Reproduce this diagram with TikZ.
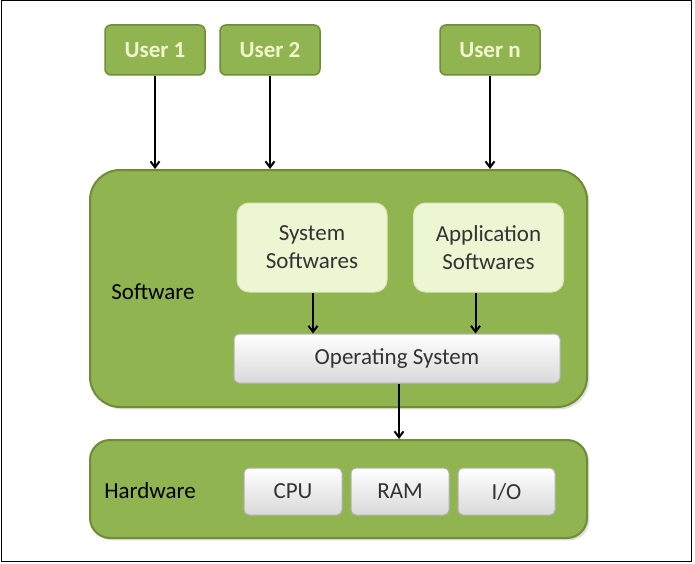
\documentclass[tikz,border=0pt]{standalone}
\usepackage{fontspec}
\setmainfont{Carlito}
\usetikzlibrary{arrows.meta,shadows}
\definecolor{gfill}{RGB}{144,180,80}
\definecolor{gdraw}{RGB}{112,140,55}
\definecolor{lgreen}{RGB}{236,246,210}
\definecolor{utext}{RGB}{242,246,205}
\tikzset{
 user/.style={draw=gdraw,fill=gfill,rounded corners=6pt,line width=1.5pt,text=utext,font=\bfseries\fontsize{23}{26}\selectfont,minimum width=100pt,minimum height=50pt},
 soft/.style={draw=lgreen!80!gfill,fill=lgreen,rounded corners=12pt,line width=1pt,font=\fontsize{23}{28}\selectfont,align=center,text=black!80,minimum width=150pt,minimum height=89pt},
 grey/.style={draw=gray!60,top color=white,bottom color=gray!30,rounded corners=5pt,line width=1pt,font=\fontsize{23}{26}\selectfont,text=black!80},
 arr/.style={-{Straight Barb[length=6pt,width=9pt]},line width=2pt},
 big/.style={draw=gdraw,fill=gfill,rounded corners=30pt,line width=2pt,drop shadow={opacity=0.25}},
}
\begin{document}
\begin{tikzpicture}[x=1pt,y=-1pt]
\useasboundingbox (0,0) rectangle (695,564);
\draw[line width=1pt] (1,1) rectangle (691,561);
\node[user] (u1) at (155,50) {User 1};
\node[user] (u2) at (270,50) {User 2};
\node[user] (un) at (490,50) {User n};
\node[big,minimum width=497pt,minimum height=237pt] (sw) at (338.5,288.5) {};
\node[big,rounded corners=20pt,minimum width=497pt,minimum height=98pt] (hw) at (338.5,489) {};
\node[font=\fontsize{23}{26}\selectfont] (swl) at (153,292) {Software};
\node[font=\fontsize{23}{26}\selectfont] (hwl) at (150,491) {Hardware};
\node[soft] (ss) at (312,247.5) {System\\Softwares};
\node[soft] (as) at (488.5,247.5) {Application\\Softwares};
\node[grey,minimum width=326pt,minimum height=49pt] (os) at (397,358.5) {Operating System};
\node[grey,minimum width=98pt,minimum height=47pt] (cpu) at (293,491.5) {CPU};
\node[grey,minimum width=98pt,minimum height=47pt] (ram) at (400,491.5) {RAM};
\node[grey,minimum width=97pt,minimum height=47pt] (io) at (506.5,491.5) {I/O};
\draw[arr] (u1.south) -- (u1.south |- sw.north);
\draw[arr] (u2.south) -- (u2.south |- sw.north);
\draw[arr] (un.south) -- (un.south |- sw.north);
\draw[arr] (ss.south) ++(1,0) coordinate (a1) -- (a1 |- os.north);
\draw[arr] (as.south) ++(-13,0) coordinate (a2) -- (a2 |- os.north);
\draw[arr] (os.south) ++(2,0) coordinate (a3) -- (a3 |- hw.north);
\end{tikzpicture}
\end{document}
